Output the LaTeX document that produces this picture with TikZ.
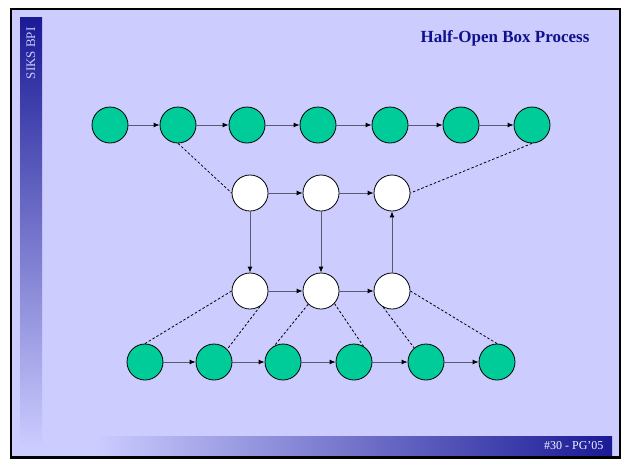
\documentclass[tikz,border=0pt]{standalone}
\usepackage{fontspec}
\setmainfont{Liberation Serif}
\usetikzlibrary{arrows.meta}
\definecolor{bg}{RGB}{204,204,255}
\definecolor{navy}{RGB}{26,26,150}
\definecolor{titleblue}{RGB}{16,16,140}
\definecolor{nodegreen}{RGB}{0,204,153}
\definecolor{linegray}{RGB}{90,90,110}
\begin{document}
\begin{tikzpicture}[x=1pt,y=-1pt,
  gnode/.style={circle, draw=black, fill=nodegreen, minimum size=36pt, inner sep=0pt, line width=0.8pt},
  wnode/.style={circle, draw=black, fill=white, minimum size=36pt, inner sep=0pt, line width=0.8pt},
  flow/.style={draw=linegray, line width=0.9pt, -{Latex[length=6pt,width=5pt,color=black]}},
  link/.style={draw=black, line width=0.8pt, dash pattern=on 2.5pt off 2pt}]
\useasboundingbox (0,0) rectangle (624,459);
\fill[white] (0,0) rectangle (624,459);
\fill[bg] (11,9) rectangle (620,457);
\shade[top color=navy, bottom color=bg] (20,17) rectangle (42,447);
\shade[left color=bg, right color=navy] (95,436) rectangle (612,456);
\draw[line width=2.5pt] (11,9) rectangle (620,457.5);

\node[rotate=90, anchor=east, text=bg, font=\fontsize{13}{13}\selectfont] (side) at (31,24) {SIKS BPI};
\node[font=\bfseries\fontsize{17}{17}\selectfont, text=titleblue] (title) at (505,38) {Half-Open Box Process};
\node[anchor=east, font=\fontsize{12}{12}\selectfont, text=white!85!bg] (foot) at (607,446) {\#30 - PG’05};

% top row
\node[gnode] (t1) at (110,125) {};
\node[gnode] (t2) at (178,125) {};
\node[gnode] (t3) at (247,125) {};
\node[gnode] (t4) at (318,125) {};
\node[gnode] (t5) at (390,125) {};
\node[gnode] (t6) at (461,125) {};
\node[gnode] (t7) at (532,125) {};
% white rows
\node[wnode] (u1) at (250,193) {};
\node[wnode] (u2) at (321,193) {};
\node[wnode] (u3) at (392,193) {};
\node[wnode] (l1) at (250,291) {};
\node[wnode] (l2) at (321,291) {};
\node[wnode] (l3) at (392,291) {};
% bottom row
\node[gnode] (b1) at (145,362) {};
\node[gnode] (b2) at (214,362) {};
\node[gnode] (b3) at (283,362) {};
\node[gnode] (b4) at (354,362) {};
\node[gnode] (b5) at (426,362) {};
\node[gnode] (b6) at (497,362) {};

\draw[flow] (t1) -- (t2);
\draw[flow] (t2) -- (t3);
\draw[flow] (t3) -- (t4);
\draw[flow] (t4) -- (t5);
\draw[flow] (t5) -- (t6);
\draw[flow] (t6) -- (t7);
\draw[flow] (u1) -- (u2);
\draw[flow] (u2) -- (u3);
\draw[flow] (l1) -- (l2);
\draw[flow] (l2) -- (l3);
\draw[flow] (u1) -- (l1);
\draw[flow] (u2) -- (l2);
\draw[flow] (l3) -- (u3);
\draw[flow] (b1) -- (b2);
\draw[flow] (b2) -- (b3);
\draw[flow] (b3) -- (b4);
\draw[flow] (b4) -- (b5);
\draw[flow] (b5) -- (b6);

\draw[link] (t2.south) -- (u1.west);
\draw[link] (t7.south) -- (u3.east);
\draw[link] (l1.west) -- (b1.north);
\draw[link] (l1.-57) -- (b2.44);
\draw[link] (l2.-134) -- (b3.118);
\draw[link] (l2.-43) -- (b4.59);
\draw[link] (l3.-119) -- (b5.130);
\draw[link] (l3.east) -- (b6.north);
\end{tikzpicture}
\end{document}
